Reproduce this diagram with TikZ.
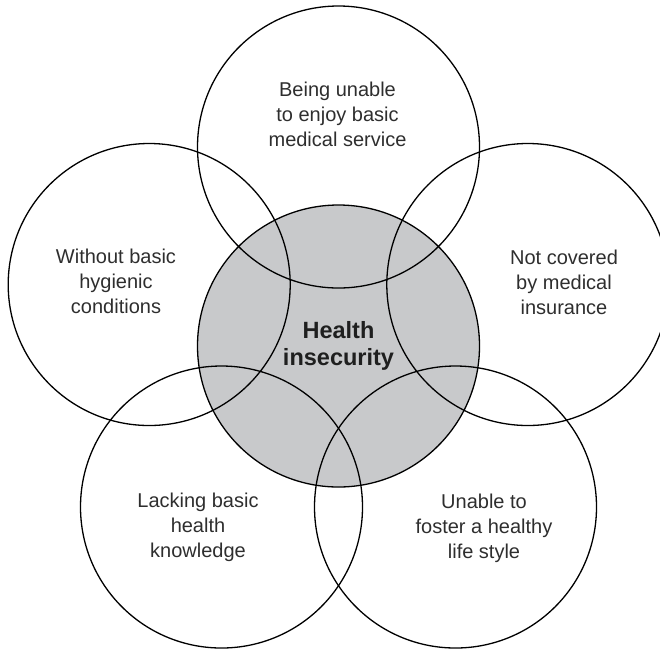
\documentclass[tikz,border=0pt]{standalone}
\usepackage{fontspec}
\setmainfont{Liberation Sans}
\definecolor{hgray}{RGB}{200,201,203}
\begin{document}
\begin{tikzpicture}[x=1pt, y=-1pt,
    main/.style = {draw, circle, minimum size=282pt, line width=1.3pt},
    lbl/.style = {align=center, text=black!82, font=\fontsize{20}{25}\selectfont}]
            \useasboundingbox (0,0) rectangle (660,649);
            \node[main, fill=hgray, align=center, text=black!88,
                  font=\bfseries\fontsize{23.5}{26.5}\selectfont] (0) at (338.5,346) {Health\\insecurity};
            \node[main] (1) at (338.5,147) {};
            \node[main] (2) at (149.2,284.5) {};
            \node[main] (3) at (527.8,284.5) {};
            \node[main] (4) at (221.5,507) {};
            \node[main] (5) at (455.5,507) {};
            % labels
            \node[lbl] (t1) at (337.5,114) {Being unable\\to enjoy basic\\medical service};
            \node[lbl] (t2) at (116,281.5) {Without basic\\hygienic\\conditions};
            \node[lbl] (t3) at (564,282.5) {Not covered\\by medical\\insurance};
            \node[lbl] (t4) at (198,527) {Lacking basic\\health\\knowledge};
            \node[lbl] (t5) at (484,528) {Unable to\\foster a healthy\\life style};
        \end{tikzpicture}
\end{document}
